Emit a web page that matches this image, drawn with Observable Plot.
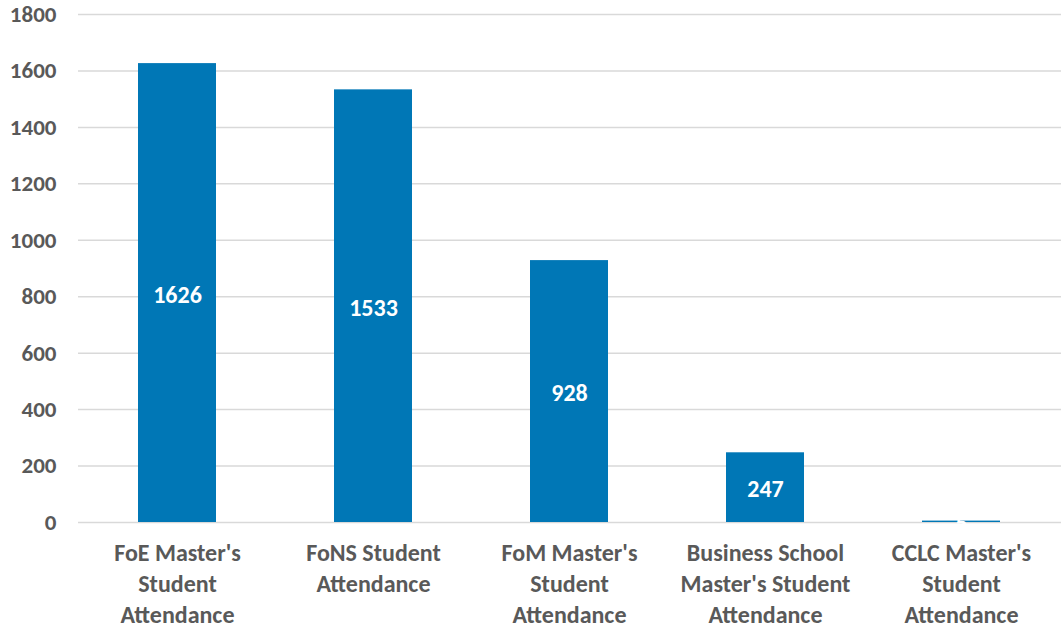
<!DOCTYPE html>
<html>
<head>
<meta charset="utf-8">
<script src="https://cdn.jsdelivr.net/npm/d3@7"></script>
<script src="https://cdn.jsdelivr.net/npm/@observablehq/plot@0.6"></script>
<style>
  html, body { margin: 0; padding: 0; background: #fff; }
  #chart svg { display: block; }
</style>
</head>
<body>
<div id="chart"></div>
<script>
const categories = [
  "FoE Master's\nStudent\nAttendance",
  "FoNS Student\nAttendance",
  "FoM Master's\nStudent\nAttendance",
  "Business School\nMaster's Student\nAttendance",
  "CCLC Master's\nStudent\nAttendance"
];
const values = [1626, 1533, 928, 247, 5];
const yTicks = [0, 200, 400, 600, 800, 1000, 1200, 1400, 1600, 1800];

const data = categories.map((c, i) => ({category: c, value: values[i]}));

const font = "Calibri, Carlito, Lato, sans-serif";
const grey = "#595959";
const blue = "#0077B6";

const chart = Plot.plot({
  width: 1061,
  height: 628,
  marginTop: 14,
  marginBottom: 106,
  marginLeft: 78,
  marginRight: 0,
  style: {fontFamily: font, fontSize: "23px", fontWeight: "bold", color: grey, background: "#fff"},
  x: {domain: categories, paddingInner: 0.6, paddingOuter: 0.3, label: null},
  y: {domain: [0, 1800], label: null},
  marks: [
    Plot.gridY(yTicks, {stroke: "#d9d9d9", strokeOpacity: 1, strokeWidth: 1.5}),
    Plot.axisY(yTicks, {tickSize: 0, tickPadding: 22, tickFormat: d => String(d), fill: grey, fontSize: 23, fontWeight: "bold", label: null}),
    Plot.axisX({tickSize: 0, tickPadding: 17, fill: grey, fontSize: 24, fontWeight: "bold", lineHeight: 1.29, label: null, textAnchor: "middle"}),
    Plot.barY(data, {x: "category", y: "value", fill: blue}),
    Plot.text(data, {
      x: "category",
      y: d => d.value / 2,
      text: d => String(d.value),
      fill: "white",
      fontSize: 24,
      fontWeight: "bold",
      dy: 2
    })
  ]
});
document.getElementById("chart").appendChild(chart);
</script>
</body>
</html>
